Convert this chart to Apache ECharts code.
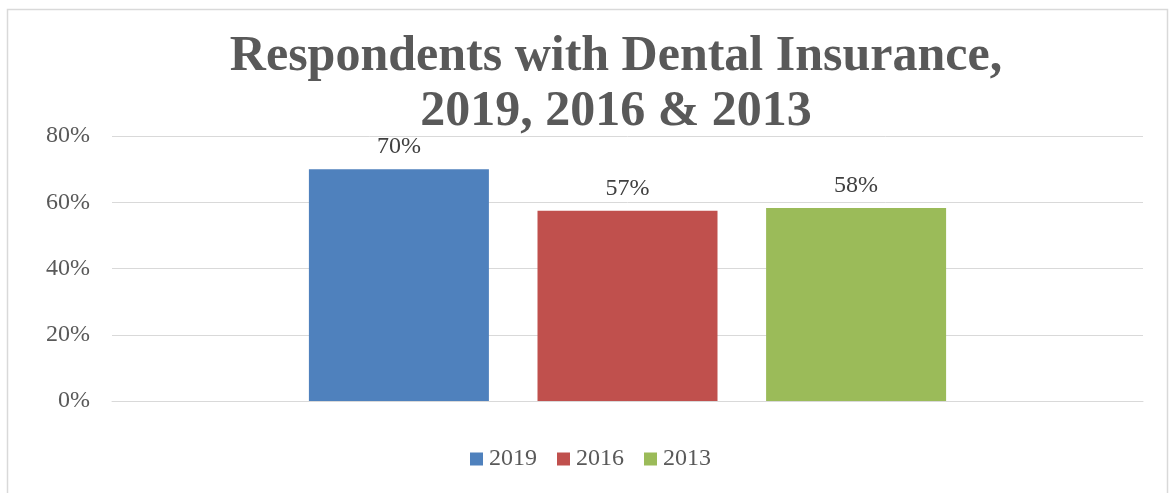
<!DOCTYPE html>
<html>
<head>
<meta charset="utf-8">
<style>
  html, body { margin: 0; padding: 0; background: #ffffff; }
  #chart { width: 1170px; height: 493px; }
</style>
<script src="https://cdn.jsdelivr.net/npm/echarts@6/dist/echarts.min.js"></script>
</head>
<body>
<div id="chart"></div>
<script>
// Share of respondents with dental insurance, by survey year
const categories = ['Dental Insurance'];
const seriesNames = ['2019', '2016', '2013'];
const values2019 = [70];
const values2016 = [57.4];
const values2013 = [58.3];
const yTicks = [0, 20, 40, 60, 80];

const colors = ['#4f81bd', '#c0504d', '#9bbb59'];
const font = '"Liberation Serif", "DejaVu Serif", serif';

const chart = echarts.init(document.getElementById('chart'));

function barSeries(name, data, color) {
  return {
    name: name,
    type: 'bar',
    data: data,
    barWidth: 180,
    barGap: '27%',
    itemStyle: { color: color },
    label: {
      show: true,
      position: 'top',
      distance: 10,
      fontFamily: font,
      fontSize: 24,
      color: '#404040',
      formatter: p => Math.round(p.value) + '%'
    }
  };
}

chart.setOption({
  animation: false,
  backgroundColor: '#ffffff',
  textStyle: { fontFamily: font },
  graphic: [{
    type: 'rect',
    shape: { x: 7.5, y: 9.5, width: 1160, height: 500 },
    style: { fill: 'none', stroke: '#d9d9d9', lineWidth: 1.5 },
    silent: true
  }],
  title: {
    text: 'Respondents with Dental Insurance,\n2019, 2016 & 2013',
    left: 611,
    textAlign: 'center',
    top: 25,
    textStyle: {
      fontFamily: font,
      fontWeight: 'bold',
      fontSize: 50,
      lineHeight: 55,
      color: '#595959'
    }
  },
  legend: {
    data: seriesNames,
    bottom: 17,
    left: 465,
    itemWidth: 13,
    itemHeight: 13,
    itemGap: 20,
    icon: 'rect',
    textStyle: { fontFamily: font, fontSize: 24, color: '#595959', padding: [0, 0, 0, 1] }
  },
  grid: { left: 112, right: 27, top: 136, bottom: 92 },
  xAxis: {
    type: 'category',
    data: categories,
    axisLine: { show: true, lineStyle: { color: '#d9d9d9', width: 1 } },
    axisTick: { show: false },
    axisLabel: { show: false }
  },
  yAxis: {
    type: 'value',
    min: yTicks[0],
    max: yTicks[yTicks.length - 1],
    interval: yTicks[1] - yTicks[0],
    axisLine: { show: false },
    axisTick: { show: false },
    splitLine: { lineStyle: { color: '#d9d9d9', width: 1 } },
    axisLabel: {
      margin: 22,
      fontFamily: font,
      fontSize: 24,
      color: '#595959',
      formatter: v => v + '%'
    }
  },
  series: [
    barSeries(seriesNames[0], values2019, colors[0]),
    barSeries(seriesNames[1], values2016, colors[1]),
    barSeries(seriesNames[2], values2013, colors[2])
  ]
});
</script>
</body>
</html>
